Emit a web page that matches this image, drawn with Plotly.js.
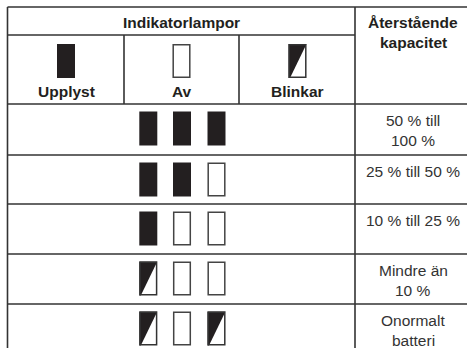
<!DOCTYPE html>
<html>
<head>
<meta charset="utf-8">
<script src="https://cdn.plot.ly/plotly-3.0.1.min.js"></script>
<style>html,body{margin:0;padding:0;background:#fff;}#chart{width:467px;height:348px;}</style>
</head>
<body>
<div id="chart"></div>
<script>
// ---- Data ----
const groupTitle = "Indikatorlampor";
const capacityTitle = ["Återstående", "kapacitet"];
const legendStates = ["on", "off", "blink"];
const legendLabels = ["Upplyst", "Av", "Blinkar"];
const lampRows = [
  ["on", "on", "on"],
  ["on", "on", "off"],
  ["on", "off", "off"],
  ["blink", "off", "off"],
  ["blink", "off", "blink"]
];
const capacityLabels = [
  ["50 % till", "100 %"],
  ["25 % till 50 %"],
  ["10 % till 25 %"],
  ["Mindre än", "10 %"],
  ["Onormalt", "batteri"]
];

// ---- Layout geometry (pixels in a 467x348 frame) ----
const colX = [7.5, 124, 239, 355, 471];
const rowY = [7, 35, 104, 155, 204, 254, 304, 360];
const lampX = [148.3, 182, 216.5];
const legendX = [66, 181.5, 297.5];
const lampW = 18, lampH = 34;
const lineCol = "#333333", lineW = 1.6;
const ink = "#231f20";
const font = "Arial, 'Liberation Sans', Helvetica, sans-serif";

const shapes = [];
const annotations = [];
function line(x0, y0, x1, y1) {
  shapes.push({type: "line", xref: "x", yref: "y", x0, y0, x1, y1, line: {color: lineCol, width: lineW}});
}
// grid
line(colX[0], rowY[0], colX[4], rowY[0]);
line(colX[0], rowY[0], colX[0], rowY[7]);
line(colX[3], rowY[0], colX[3], rowY[7]);
line(colX[0], rowY[1], colX[3], rowY[1]);
line(colX[1], rowY[1], colX[1], rowY[2]);
line(colX[2], rowY[1], colX[2], rowY[2]);
for (let r = 2; r <= 6; r++) line(colX[0], rowY[r], colX[4], rowY[r]);

function lamp(state, cx, top) {
  const x0 = cx - lampW / 2, x1 = cx + lampW / 2, y0 = top, y1 = top + lampH;
  if (state === "on") {
    shapes.push({type: "rect", xref: "x", yref: "y", x0, x1, y0, y1, fillcolor: ink, line: {width: 0}});
  } else if (state === "off") {
    shapes.push({type: "rect", xref: "x", yref: "y", x0: x0 + 0.7, x1: x1 - 0.7, y0: y0 + 0.7, y1: y1 - 0.7, fillcolor: "#ffffff", line: {color: "#444444", width: 1.5}});
  } else {
    shapes.push({type: "path", xref: "x", yref: "y",
      path: `M ${x0} ${y0} L ${x1} ${y0} L ${x0 + 1.5} ${y1} L ${x0} ${y1} Z`,
      fillcolor: ink, line: {width: 0}});
    shapes.push({type: "rect", xref: "x", yref: "y", x0: x0 + 0.7, x1: x1 - 0.7, y0: y0 + 0.7, y1: y1 - 0.7, fillcolor: "rgba(0,0,0,0)", line: {color: "#333333", width: 1.5}});
  }
}
function text(t, x, y, bold, size) {
  annotations.push({xref: "x", yref: "y", x, y, text: bold ? "<b>" + t + "</b>" : t, showarrow: false,
    xanchor: "center", yanchor: "middle", font: {family: font, size: size || 15.5, color: bold ? "#231f20" : "#333333"}});
}

// header
text(groupTitle, (colX[0] + colX[3]) / 2, 22, true);
capacityTitle.forEach((t, i) => text(t, 413, 22 + 20 * i, true));
legendStates.forEach((s, i) => {
  lamp(s, legendX[i], 44);
  text(legendLabels[i], legendX[i], 91, true);
});
// body
lampRows.forEach((row, r) => {
  const top = rowY[r + 2];
  row.forEach((s, c) => lamp(s, lampX[c], top + 7.5));
  capacityLabels[r].forEach((t, i) => text(t, 413, top + 16 + 20 * i, false));
});

// an invisible trace so the axes exist
const traces = [{x: [0, 467], y: [0, 348], mode: "markers", marker: {opacity: 0}, hoverinfo: "skip", showlegend: false}];

const layout = {
  width: 467, height: 348,
  margin: {l: 0, r: 0, t: 0, b: 0, pad: 0},
  paper_bgcolor: "#ffffff", plot_bgcolor: "#ffffff",
  xaxis: {range: [0, 467], visible: false, fixedrange: true},
  yaxis: {range: [348, 0], visible: false, fixedrange: true},
  shapes, annotations, showlegend: false
};
Plotly.newPlot("chart", traces, layout, {displayModeBar: false, staticPlot: true});
</script>
</body>
</html>
